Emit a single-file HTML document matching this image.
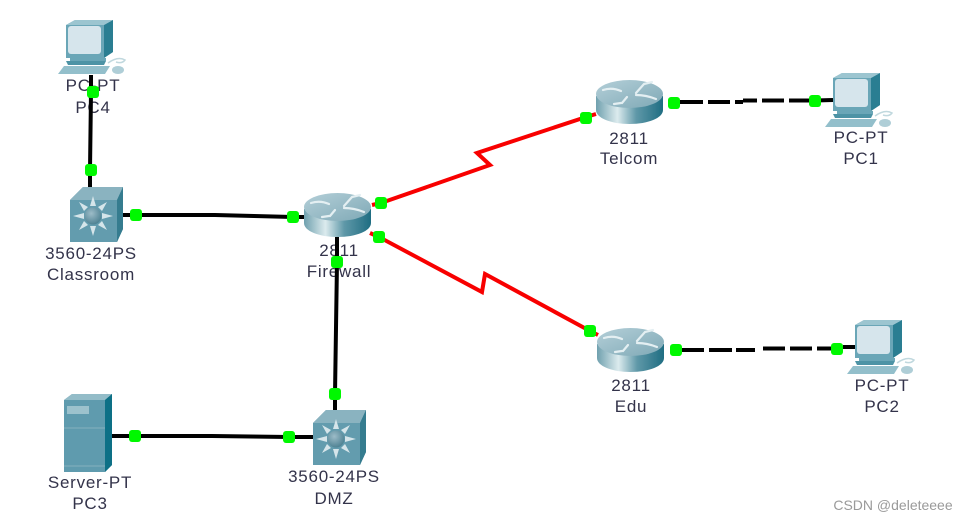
<!DOCTYPE html>
<html><head><meta charset="utf-8"><style>
html,body{margin:0;padding:0;background:#fff;width:968px;height:522px;overflow:hidden}
svg{display:block}
text{font-family:"Liberation Sans",sans-serif;font-size:17px;letter-spacing:.75px;fill:#33334a;text-anchor:middle}
</style></head><body>
<svg width="968" height="522" viewBox="0 0 968 522" xmlns="http://www.w3.org/2000/svg">
<defs>
<filter id="soft" x="-5%" y="-5%" width="110%" height="110%"><feGaussianBlur stdDeviation="0.35"/></filter>
<linearGradient id="rb" x1="0" x2="1" y1="0" y2="0">
<stop offset="0" stop-color="#6fa0ae"/><stop offset=".32" stop-color="#dcebee"/><stop offset=".6" stop-color="#5f98a8"/><stop offset="1" stop-color="#1f6d82"/>
</linearGradient>
<linearGradient id="rt" x1="0" x2="1" y1="0" y2="1">
<stop offset="0" stop-color="#b4cfd8"/><stop offset="1" stop-color="#7fa9b6"/>
</linearGradient>
<radialGradient id="hub" cx=".4" cy=".35" r=".7"><stop offset="0" stop-color="#9dbcc8"/><stop offset="1" stop-color="#4a7f90"/></radialGradient>
<g id="pc">
<path d="M66 25 L75 20 H113 L113 52 L104 58 H66Z" fill="#6ba6b7"/>
<path d="M104 25 L113 20 V52 L104 58Z" fill="#2a7e92"/>
<path d="M66 25 L75 20 H113 L104 25Z" fill="#9cc5d0"/>
<rect x="68" y="26" width="33" height="28" rx="3" fill="#d6e5ec"/>
<path d="M70 58 H106 V61 H70Z" fill="#6ba6b7"/>
<path d="M66 61 H106 L104 65 H68Z" fill="#4d93a5"/>
<path d="M64 66 H110 L105 74 H58Z" fill="#93bfcb"/>
<path d="M108 63 Q118 56 125 60 Q122 64 116 62" fill="none" stroke="#c0d8de" stroke-width="1.500"/>
<ellipse cx="118" cy="70" rx="6" ry="4" fill="#afced7"/>
</g>
<g id="sw">
<path d="M70 200 L83 187 H123 V229 L117 242 H70Z" fill="#649cae"/>
<path d="M70 200 L83 187 H123 L117 200Z" fill="#8ab3c0"/>
<path d="M117 200 L123 187 V229 L117 242Z" fill="#357c8f"/>
<g fill="#d5e5ea">
<path d="M93 196 L96 206 H90Z M93 236 L96 226 H90Z M73 216 L84 213 V219Z M113 216 L102 213 V219Z"/>
<path d="M79 202 L88 207 L84 211Z M107 202 L98 207 L102 211Z M79 230 L88 225 L84 221Z M107 230 L98 225 L102 221Z"/>
</g>
<circle cx="93" cy="216" r="8.500" fill="url(#hub)"/>
</g>
<g id="rtr">
<path d="M304 209 V223 C304 231 319 237 337.500 237 C356 237 371 231 371 223 V209Z" fill="url(#rb)"/>
<ellipse cx="337.500" cy="207" rx="33.500" ry="14" fill="url(#rt)"/>
<g fill="none" stroke="#e4eff2" stroke-width="2.200" stroke-linecap="round">
<path d="M311 203 Q320 200 329 204"/><path d="M344 206 L352 197 L360 195"/><path d="M344 208 Q354 208 364 212"/><path d="M330 216 L335 210"/><path d="M329 216 L322 217"/>
</g>
</g>
</defs>

<g filter="url(#soft)">
<use href="#pc"/>
<use href="#pc" x="767" y="53"/>
<use href="#pc" x="789" y="300"/>
<use href="#sw"/>
<use href="#sw" x="243" y="223"/>
<use href="#rtr"/>
<use href="#rtr" x="292" y="-113"/>
<use href="#rtr" x="293" y="135"/>
<path d="M64 400 L72 394 H112 V465 L105 472 H64Z" fill="#5f9bae"/>
<path d="M64 400 L72 394 H112 L105 400Z" fill="#93bcc8"/>
<path d="M105 400 L112 394 V465 L105 472Z" fill="#0f6f86"/>
<rect x="67" y="406" width="22" height="8" fill="#9cc2cd"/>
<path d="M64 428 H105" stroke="#85b2bf" stroke-width="1"/>
<path d="M64 466 H105" stroke="#85b2bf" stroke-width="1"/>
</g>

<text x="93" y="91">PC-PT</text><text x="93" y="113">PC4</text>
<text x="91" y="259">3560-24PS</text><text x="91" y="280">Classroom</text>
<text x="339" y="256">2811</text><text x="339" y="277">Firewall</text>
<text x="629" y="144">2811</text><text x="629" y="164">Telcom</text>
<text x="861" y="143">PC-PT</text><text x="861" y="164">PC1</text>
<text x="631" y="391">2811</text><text x="631" y="412">Edu</text>
<text x="882" y="391">PC-PT</text><text x="882" y="412">PC2</text>
<text x="90" y="488">Server-PT</text><text x="90" y="509">PC3</text>
<text x="334" y="482">3560-24PS</text><text x="334" y="504">DMZ</text>
<text x="893" y="510" style="font-size:14px;letter-spacing:0;fill:#9a9a9a">CSDN @deleteeee</text>

<g fill="none" stroke="#000" stroke-width="4">
<path d="M91 75 V92 L90 170 V187"/>
<path d="M123 215 H215 L293 217 H304"/>
<path d="M337 237 V262 L335 394 V410"/>
<path d="M112 436 H212 L289 437 H313"/>
<path d="M674 102 H703 M708 102 H730 M735 102 H743 M743 100.500 H757 M762 100.500 H784 M789 100.500 H815 L833 100"/>
<path d="M676 350 H704 M709 350 H732 M736 350 H755 M763 348.500 H785 M790 348.500 H812 M817 348.500 H837 M843 347 H855"/>
</g>
<g fill="none" stroke="#f80000" stroke-width="4">
<path d="M372 205 L381 203 L490 165 L477 153 L586 117 L596 114"/>
<path d="M370 233 L379 237 L482 292 L485 274 L590 331 L598 335"/>
</g>
<g fill="#00f800">
<rect x="87" y="86" width="12" height="12" rx="3"/>
<rect x="85" y="164" width="12" height="12" rx="3"/>
<rect x="130" y="209" width="12" height="12" rx="3"/>
<rect x="287" y="211" width="12" height="12" rx="3"/>
<rect x="331" y="256" width="12" height="12" rx="3"/>
<rect x="329" y="388" width="12" height="12" rx="3"/>
<rect x="129" y="430" width="12" height="12" rx="3"/>
<rect x="283" y="431" width="12" height="12" rx="3"/>
<rect x="375" y="197" width="12" height="12" rx="3"/>
<rect x="373" y="231" width="12" height="12" rx="3"/>
<rect x="580" y="112" width="12" height="12" rx="3"/>
<rect x="584" y="325" width="12" height="12" rx="3"/>
<rect x="668" y="97" width="12" height="12" rx="3"/>
<rect x="809" y="95" width="12" height="12" rx="3"/>
<rect x="670" y="344" width="12" height="12" rx="3"/>
<rect x="831" y="343" width="12" height="12" rx="3"/>
</g>
</svg>
</body></html>
